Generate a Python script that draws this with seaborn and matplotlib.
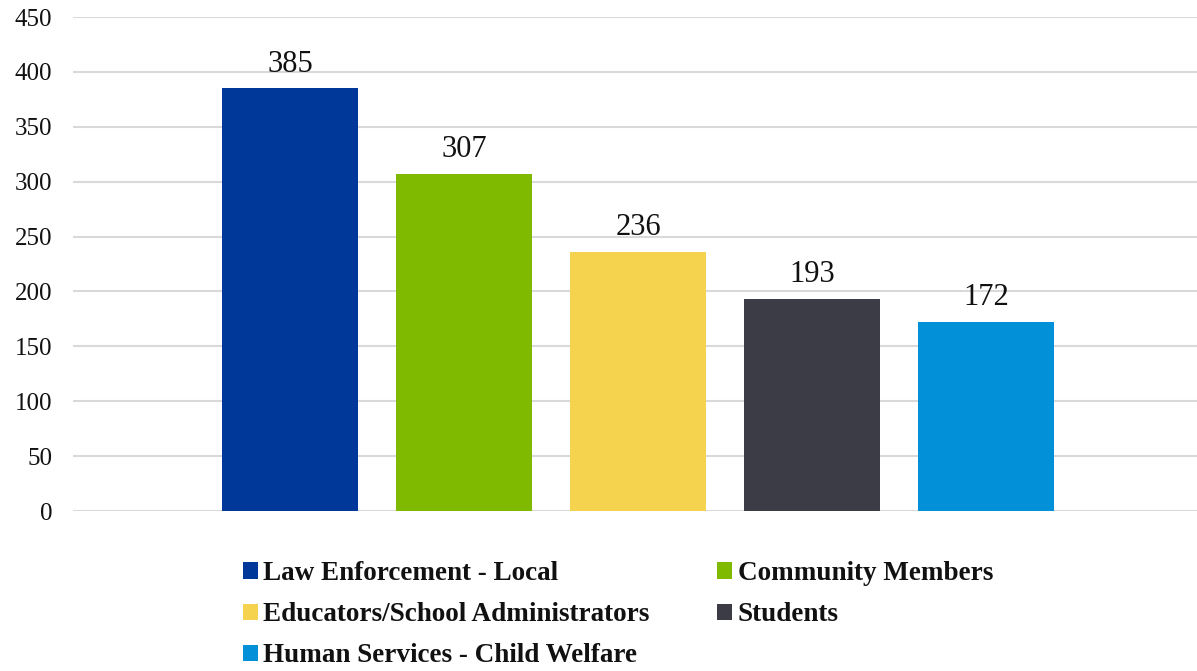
import matplotlib
matplotlib.use("Agg")
import matplotlib.pyplot as plt
from matplotlib.patches import Patch
import seaborn as sns
import pandas as pd

# Participants by role
categories = [
    "Law Enforcement - Local",
    "Community Members",
    "Educators/School Administrators",
    "Students",
    "Human Services - Child Welfare",
]
counts = [385, 307, 236, 193, 172]
colors = ["#003899", "#7FBA00", "#F5D34F", "#3C3C46", "#0290D8"]
yticks = [0, 50, 100, 150, 200, 250, 300, 350, 400, 450]

sns.set_theme(style="white")
plt.rcParams["font.family"] = ["Liberation Serif", "DejaVu Serif"]

df = pd.DataFrame({"role": categories, "count": counts})

fig = plt.figure(figsize=(11.97, 6.71), dpi=100)
ax = fig.add_axes([73 / 1197, 1 - 511 / 671, 1 - 73 / 1197, (511 - 17) / 671])

sns.barplot(data=df, x="role", y="count", hue="role", order=categories,
            hue_order=categories, palette=colors, width=0.78, legend=False,
            saturation=1, linewidth=0, ax=ax)

for cont in ax.containers:
    ax.bar_label(cont, padding=7, fontsize=22, color="#111111")

ax.set_ylim(0, 450)
ax.set_yticks(yticks)
ax.set_xlim(-1.247, 5.21)
ax.set_xticks([])
ax.set_xlabel("")
ax.set_ylabel("")
ax.tick_params(axis="y", labelsize=18, colors="#111111", length=0, pad=15)
ax.yaxis.grid(True, color="#D9D9D9", linewidth=1.5)
ax.set_axisbelow(True)
for s in ax.spines.values():
    s.set_visible(False)

# legend rows fill left to right
handles = [Patch(facecolor=c, edgecolor="none") for c in colors]
order = [0, 2, 4, 1, 3]
leg = fig.legend([handles[i] for i in order], [categories[i] for i in order],
                 ncol=2, loc="upper left", bbox_to_anchor=(243 / 1197, 1 - 561 / 671),
                 frameon=False, borderpad=0, borderaxespad=0,
                 handlelength=0.55, handleheight=0.55,
                 handletextpad=0.2, columnspacing=2.5, labelspacing=0.6,
                 prop={"weight": "bold", "size": 19.5})
for t in leg.get_texts():
    t.set_color("#111111")

fig.savefig("out.png", dpi=100)
